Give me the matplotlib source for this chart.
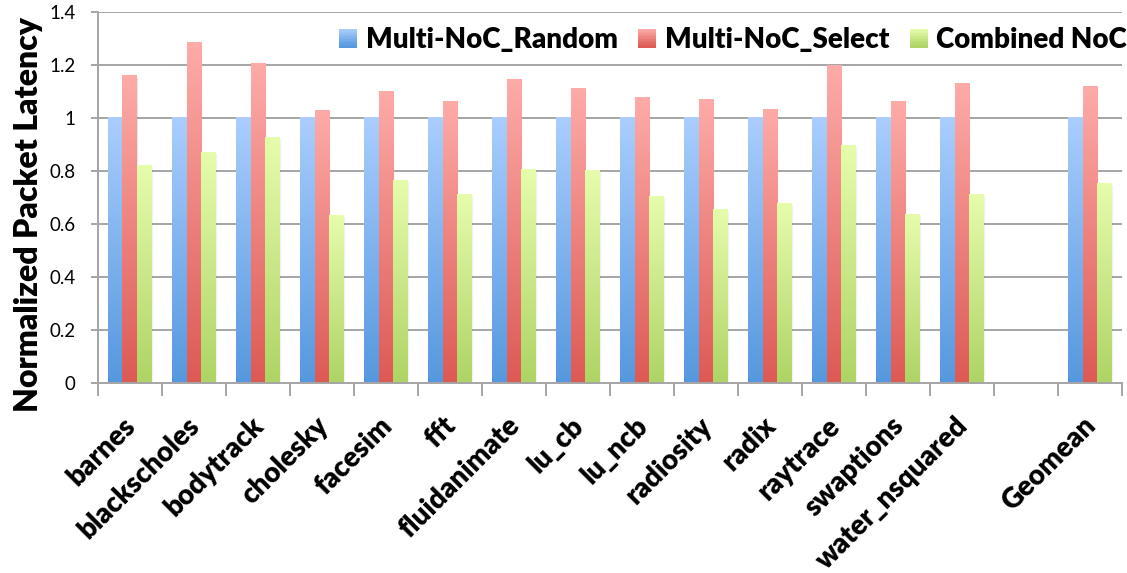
import numpy as np
import matplotlib
matplotlib.use("Agg")
import matplotlib.pyplot as plt
from matplotlib.colors import to_rgb
from matplotlib.legend_handler import HandlerBase
from matplotlib.patches import Rectangle
from matplotlib.transforms import ScaledTranslation

# ---- data -------------------------------------------------------------
benchmarks = ["barnes", "blackscholes", "bodytrack", "cholesky", "facesim",
              "fft", "fluidanimate", "lu_cb", "lu_ncb", "radiosity", "radix",
              "raytrace", "swaptions", "water_nsquared", "", "Geomean"]
series_names = ["Multi-NoC_Random", "Multi-NoC_Select", "Combined NoC"]
random_vals = [1.0, 1.0, 1.0, 1.0, 1.0, 1.0, 1.0, 1.0, 1.0, 1.0, 1.0, 1.0,
               1.0, 1.0, None, 1.0]
select_vals = [1.157, 1.281, 1.203, 1.025, 1.097, 1.059, 1.142, 1.108, 1.076,
               1.068, 1.029, 1.196, 1.059, 1.127, None, 1.116]
combined_vals = [0.818, 0.867, 0.924, 0.630, 0.762, 0.709, 0.804, 0.799,
                 0.701, 0.653, 0.676, 0.894, 0.634, 0.709, None, 0.750]
y_ticks = [0, 0.2, 0.4, 0.6, 0.8, 1, 1.2, 1.4]
y_tick_labels = ["0", "0.2", "0.4", "0.6", "0.8", "1", "1.2", "1.4"]

# gradient colours (top, bottom) for each series
grad_colors = [("#aacdfd", "#5698df"),
               ("#fdaba8", "#dd5a55"),
               ("#e6fcab", "#afd465")]

FONT = ["Lato", "DejaVu Sans"]
plt.rcParams["font.family"] = FONT
HEAVY = "heavy"

fig = plt.figure(figsize=(11.27, 5.73), dpi=100)
W, H = 1127, 573
ax = fig.add_axes([97.7 / W, 1 - 383.4 / H, (1121.7 - 97.7) / W, (383.4 - 11.7) / H])

n = len(benchmarks)
x = np.arange(n)
bw = 0.225
offsets = [-bw, 0.0, bw]
grid_c = "#a5a5a5"


def gradient_image(top, bottom, steps=64):
    t = np.linspace(0, 1, steps)[:, None]
    c0, c1 = np.array(to_rgb(top)), np.array(to_rgb(bottom))
    return (c0 * (1 - t) + c1 * t)[:, None, :].reshape(steps, 1, 3)


for vals, off, (ctop, cbot) in zip([random_vals, select_vals, combined_vals],
                                   offsets, grad_colors):
    xs = [xi + off for xi, v in zip(x, vals) if v is not None]
    hs = [v for v in vals if v is not None]
    bars = ax.bar(xs, hs, width=bw, color="none", edgecolor="none", zorder=3)
    img = gradient_image(ctop, cbot)
    for b in bars:
        x0, w, h = b.get_x(), b.get_width(), b.get_height()
        # soft drop shadow on the right-hand side
        for k, a in enumerate([0.10, 0.06, 0.03]):
            ax.add_patch(Rectangle((x0 + w, 0), 0.012 * (k + 1), h * 0.995,
                                   facecolor="#808080", alpha=a,
                                   edgecolor="none", zorder=2.5))
        ax.imshow(img, extent=[x0, x0 + w, 0, h], aspect="auto",
                  interpolation="bilinear", zorder=3)

ax.set_xlim(-0.5, n - 0.5)
ax.set_ylim(0, 1.4)

# gridlines and spines
for yv in y_ticks[1:]:
    ax.axhline(yv, color=grid_c, lw=1.4, zorder=1)
for s in ["top", "right"]:
    ax.spines[s].set_visible(False)
for s in ["left", "bottom"]:
    ax.spines[s].set_color(grid_c)
    ax.spines[s].set_linewidth(1.4)
    ax.spines[s].set_zorder(4)

ax.set_yticks(y_ticks)
ax.set_yticklabels(y_tick_labels)
ax.tick_params(axis="y", length=5, width=1.4, color=grid_c, pad=11,
               labelsize=13.5, labelcolor="black")

ax.set_xticks(np.arange(-0.5, n, 1.0), minor=True)
ax.tick_params(axis="x", which="minor", length=9, width=1.4, color=grid_c)
ax.set_xticks(x)
ax.set_xticklabels(benchmarks, rotation=45, ha="right", va="top",
                   rotation_mode="anchor", fontsize=20, fontweight=HEAVY)
ax.tick_params(axis="x", which="major", length=0, pad=21)
shift = ScaledTranslation(-7 / 100, 0, fig.dpi_scale_trans)
for lbl in ax.get_xticklabels():
    lbl.set_transform(lbl.get_transform() + shift)

fig.text(29 / W, 1 - 214 / H, "Normalized Packet Latency", rotation=90,
         ha="center", va="center", fontsize=23, fontweight=HEAVY)


# legend with gradient swatches
class GradientHandler(HandlerBase):
    def __init__(self, top, bottom, **kw):
        super().__init__(**kw)
        self.top, self.bottom = top, bottom

    def create_artists(self, legend, orig_handle, xdescent, ydescent,
                       width, height, fontsize, trans):
        steps = 12
        c0, c1 = np.array(to_rgb(self.top)), np.array(to_rgb(self.bottom))
        arts = []
        for i in range(steps):
            t = i / (steps - 1)
            col = c0 * (1 - t) + c1 * t
            y0 = -ydescent + height * (1 - (i + 1) / steps)
            arts.append(Rectangle((-xdescent, y0), width, height / steps + 0.3,
                                  facecolor=col, edgecolor="none",
                                  transform=trans))
        return arts


handles = [Rectangle((0, 0), 1, 1) for _ in series_names]
handler_map = {h: GradientHandler(t, b) for h, (t, b) in zip(handles, grad_colors)}
fig.legend(handles, series_names, handler_map=handler_map, loc="center right",
           bbox_to_anchor=(1127 / W, 1 - 40 / H), ncol=3, frameon=False,
           prop={"family": FONT, "weight": HEAVY, "size": 20},
           handlelength=0.65, handleheight=0.65, handletextpad=0.3,
           columnspacing=0.75, borderaxespad=0, borderpad=0)

fig.savefig("out.png", dpi=100)
